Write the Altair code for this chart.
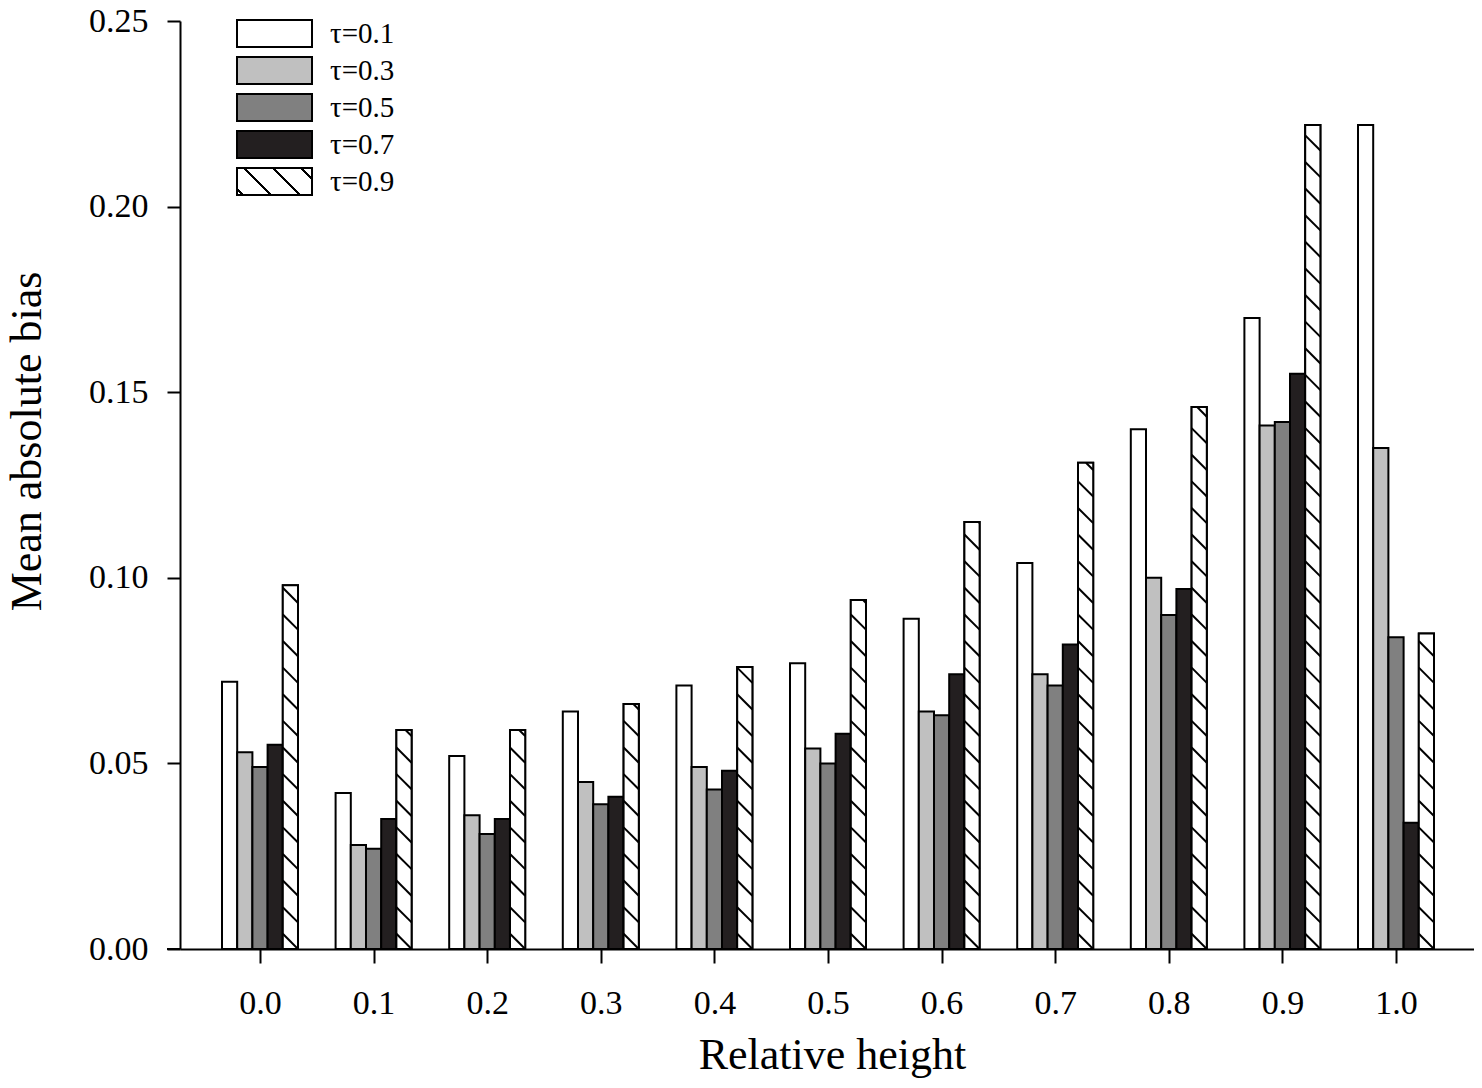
import altair as alt
import pandas as pd

# ---------------- data ----------------
heights = [0.0, 0.1, 0.2, 0.3, 0.4, 0.5, 0.6, 0.7, 0.8, 0.9, 1.0]
tau_labels = ["τ=0.1", "τ=0.3", "τ=0.5", "τ=0.7", "τ=0.9"]
tau01 = [0.072, 0.042, 0.052, 0.064, 0.071, 0.077, 0.089, 0.104, 0.140, 0.170, 0.222]
tau03 = [0.053, 0.028, 0.036, 0.045, 0.049, 0.054, 0.064, 0.074, 0.100, 0.141, 0.135]
tau05 = [0.049, 0.027, 0.031, 0.039, 0.043, 0.050, 0.063, 0.071, 0.090, 0.142, 0.084]
tau07 = [0.055, 0.035, 0.035, 0.041, 0.048, 0.058, 0.074, 0.082, 0.097, 0.155, 0.034]
tau09 = [0.098, 0.059, 0.059, 0.066, 0.076, 0.094, 0.115, 0.131, 0.146, 0.222, 0.085]
y_ticks = [0.0, 0.05, 0.10, 0.15, 0.20, 0.25]

series = [tau01, tau03, tau05, tau07, tau09]
fills = ["#ffffff", "#c0c0c0", "#808080", "#231f20"]

# ---------------- layout / style constants ----------------
W, H = 1294, 928
TOP = 13
X_MIN, X_MAX = -0.07042, 1.06866
BW = 15.2 / 1136          # bar width in x-data units
HATCH_GAP = 0.00717       # vertical distance between hatch lines (y units)
HATCH_DROP = 15.2 / 3712  # drop of a hatch line across one bar (45 deg)
FONT = "Liberation Serif"

rows = []
for i, (lab, vals) in enumerate(zip(tau_labels, series)):
    for h, v in zip(heights, vals):
        rows.append({"height": h, "tau": lab, "idx": i, "value": v})
df = pd.DataFrame(rows)

# hatch segments derived from the tau=0.9 values
hatch = []
for h, v in zip(heights, tau09):
    xl = h + 1.5 * BW
    xr = h + 2.5 * BW
    k = 0
    while k * HATCH_GAP < v:
        yr = k * HATCH_GAP
        yl = yr + HATCH_DROP
        if yl <= v:
            hatch.append({"xa": xl, "ya": yl, "xb": xr, "yb": yr})
        else:
            f = 1 - (v - yr) / HATCH_DROP
            hatch.append({"xa": xl + f * BW, "ya": v, "xb": xr, "yb": yr})
        k += 1
hatch_df = pd.DataFrame(hatch)

# hatched legend symbol through a striped linear gradient
centers = [0.058, 0.336, 0.615, 0.892]
hw = 0.014
stops = ["{offset: 0, color: 'white'}"]
for c in centers:
    stops += [
        "{offset: %.4f, color: 'white'}" % (c - hw),
        "{offset: %.4f, color: 'black'}" % (c - hw),
        "{offset: %.4f, color: 'black'}" % (c + hw),
        "{offset: %.4f, color: 'white'}" % (c + hw),
    ]
stops.append("{offset: 1, color: 'white'}")
grad_expr = ("{gradient: 'linear', x1: 0, y1: 1, x2: 1.204, y2: 0.567, stops: ["
             + ", ".join(stops) + "]}")

xscale = alt.Scale(domain=[X_MIN, X_MAX], nice=False, zero=False)
yscale = alt.Scale(domain=[0, 0.25], nice=False)

x_axis = alt.Axis(
    values=heights, format=".1f", title="Relative height",
    tickSize=14, tickWidth=2, tickColor="black",
    domainWidth=2, domainColor="black", grid=False,
    labelFont=FONT, labelFontSize=34, labelColor="black",
    labelBaseline="alphabetic", labelPadding=50,
    labelFlush=False, labelOverlap=False,
    titleFont=FONT, titleFontSize=44, titleFontWeight="normal", titleColor="black",
    titleX=652, titleY=119, titleBaseline="alphabetic", titleAlign="center",
)
y_axis = alt.Axis(
    values=y_ticks, format=".2f", title="Mean absolute bias",
    tickSize=13, tickWidth=2, tickColor="black",
    domainWidth=2, domainColor="black", grid=False,
    labelFont=FONT, labelFontSize=34, labelColor="black", labelPadding=19,
    labelFlush=False, labelOverlap=False,
    titleFont=FONT, titleFontSize=44, titleFontWeight="normal", titleColor="black",
    titleX=-140, titleY=441 - 8 - TOP, titleAngle=-90, titleBaseline="alphabetic",
    titleAlign="center",
)

base = alt.Chart(df).transform_calculate(
    xl="datum.height + (datum.idx - 2.5) * %f" % BW,
    xr="datum.height + (datum.idx - 1.5) * %f" % BW,
)

bars = base.mark_rect(stroke="black", strokeWidth=2).encode(
    x=alt.X("xl:Q", scale=xscale, axis=x_axis),
    x2="xr:Q",
    y=alt.Y("value:Q", scale=yscale, axis=y_axis),
    y2=alt.datum(0),
    fill=alt.Fill(
        "tau:N",
        scale=alt.Scale(domain=tau_labels, range=fills + [{"expr": grad_expr}]),
        legend=alt.Legend(
            title=None, orient="none", legendX=56, legendY=-2, padding=0,
            symbolType="M-1,-1H4.556V1H-1Z", symbolSize=729,
            symbolStrokeColor="black", symbolStrokeWidth=2,
            labelFont=FONT, labelFontSize=29, labelColor="black",
            labelOffset=65, rowPadding=2,
        ),
    ),
)

white09 = base.transform_filter("datum.idx == 4").mark_rect(
    fill="white", stroke="black", strokeWidth=2
).encode(x=alt.X("xl:Q", scale=xscale), x2="xr:Q",
         y=alt.Y("value:Q", scale=yscale), y2=alt.datum(0))

hatch_rules = alt.Chart(hatch_df).mark_rule(color="black", strokeWidth=2).encode(
    x=alt.X("xa:Q", scale=xscale), x2="xb:Q",
    y=alt.Y("ya:Q", scale=yscale), y2="yb:Q",
)

axis_ext = alt.Chart(pd.DataFrame({"z": [0]})).mark_rule(color="black", strokeWidth=2).encode(
    y=alt.Y("z:Q", scale=yscale), x=alt.value(-13), x2=alt.value(0)
)

chart = alt.layer(bars, white09, hatch_rules, axis_ext).properties(
    width=W, height=H,
    autosize=alt.AutoSizeParams(type="none"),
    padding={"left": 172, "top": TOP, "right": 0, "bottom": 1072 - TOP - H},
    background="white",
).configure_view(stroke=None)

chart.save("out.html", embed_options={"renderer": "svg", "actions": False})
